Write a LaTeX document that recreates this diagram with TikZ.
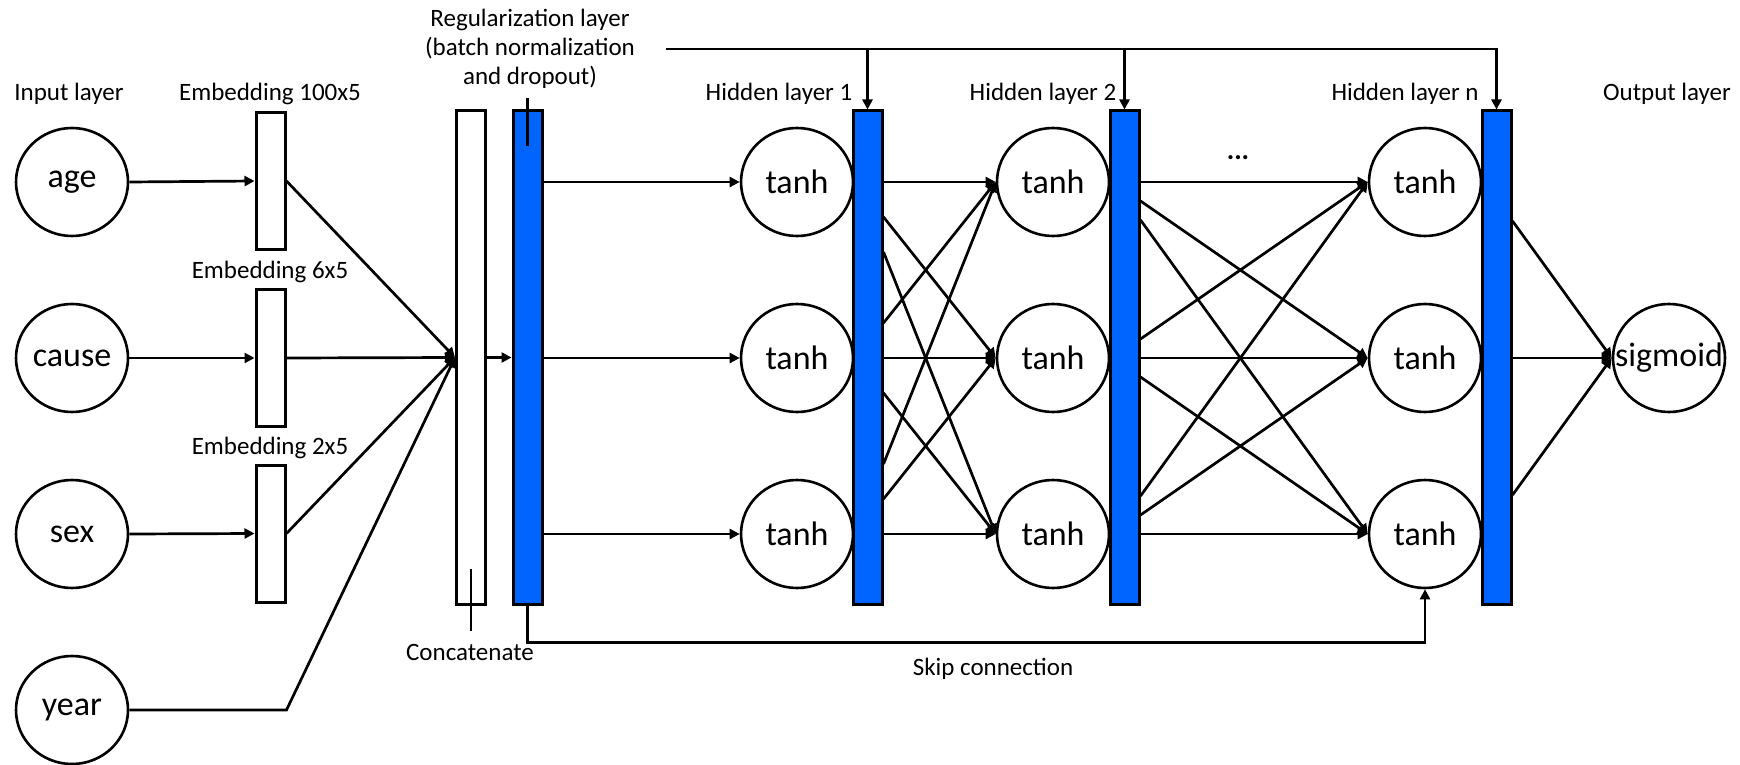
\documentclass[tikz,border=0pt]{standalone}
\usepackage{fontspec}
\setmainfont{Carlito}
\usetikzlibrary{arrows.meta,calc,shapes.geometric}
\definecolor{layerblue}{RGB}{0,100,255}
\begin{document}
\begin{tikzpicture}[x=0.5pt,y=-0.5pt,
  neurontext/.style={font=\fontsize{17pt}{19pt}\selectfont,inner sep=0pt},
  neuron/.style={draw,line width=1.3pt,ellipse,minimum width=56pt,minimum height=54pt,inner sep=0pt,label={[neurontext]center:#1}},
  embbox/.style={draw,line width=1.5pt,fill=white,minimum width=14.5pt,minimum height=68.5pt,inner sep=0pt},
  tallbox/.style={draw,line width=1.5pt,minimum width=14.5pt,minimum height=246.5pt,inner sep=0pt},
  bluebar/.style={tallbox,fill=layerblue},
  lbl/.style={font=\fontsize{12.5pt}{14.5pt}\selectfont,inner sep=0pt,align=center},
  conn/.style={line width=1.35pt},
  arr/.style={conn,-{Triangle[length=5pt,width=5pt]}},
]
\useasboundingbox (0,0) rectangle (1740,765);

% input neurons
\node[neuron=age]   (in1) at (72,182) {};
\node[neuron=cause] (in2) at (72,358) {};
\node[neuron=sex]   (in3) at (72,534) {};
\node[neuron=year]  (in4) at (72,710) {};

% hidden neurons
\foreach \y [count=\i] in {182,358,534} {
  \node[neuron=tanh] (ha\i) at (797,\y) {};
  \node[neuron=tanh] (hb\i) at (1053,\y) {};
  \node[neuron=tanh] (hn\i) at (1425,\y) {};
}
\node[neuron=sigmoid] (out) at (1669,358) {};

% boxes
\node[embbox] (e1) at (270.5,181) {};
\node[embbox] (e2) at (270.5,358) {};
\node[embbox] (e3) at (270.5,533.5) {};
\node[tallbox,fill=white] (cat) at (471,357.5) {};
\node[bluebar] (reg) at (527.5,357.5) {};
\node[bluebar] (b1) at (867.5,357.5) {};
\node[bluebar] (b2) at (1124.5,357.5) {};
\node[bluebar] (bn) at (1496.5,357.5) {};

% labels
\node[lbl] (tin)  at (69,94)   {Input layer};
\node[lbl] (te1)  at (270,94)  {Embedding 100x5};
\node[lbl] (te2)  at (270,272) {Embedding 6x5};
\node[lbl] (te3)  at (270,448) {Embedding 2x5};
\node[lbl] (treg) at (530,49)  {Regularization layer\\(batch normalization\\and dropout)};
\node[lbl] (th1)  at (779,94)  {Hidden layer 1};
\node[lbl] (th2)  at (1043,94) {Hidden layer 2};
\node[lbl] (thn)  at (1405,94) {Hidden layer n};
\node[lbl] (tout) at (1667,94) {Output layer};
\node[lbl,font=\bfseries\fontsize{14pt}{16pt}\selectfont] (dots) at (1238,158) {...};
\node[lbl] (tcat) at (470,652) {Concatenate};
\node[lbl] (tskip) at (993,669) {Skip connection};

% input -> embedding -> concat
\foreach \i in {1,2,3} {
  \draw[arr] (in\i.east) -- (e\i.west);
  \draw[arr] (e\i.east) -- (cat.west);
}
\draw[arr] (in4.east) -- (e3.east |- in4.east) -- (cat.west);
\draw[arr] (cat.east) -- (reg.west);

% regularization -> hidden 1
\foreach \i in {1,2,3}
  \draw[arr] (reg.east |- ha\i) -- (ha\i.west);

% hidden 1 -> hidden 2
\foreach \i in {1,2,3}
  \foreach \j in {1,2,3}
    \draw[arr] ($(b1.east |- ha\i)+(0,{35*(\j-\i)})$) -- (hb\j.west);

% hidden 2 -> hidden n
\foreach \i in {1,2,3}
  \foreach \j in {1,2,3}
    \draw[arr] ($(b2.east |- hb\i)+(0,{19*(\j-\i)})$) -- (hn\j.west);

% hidden n -> output
\foreach \i in {1,2,3}
  \draw[arr] ($(bn.east |- hn\i)+(0,{39*(2-\i)})$) -- (out.west);

% regularization feed line
\coordinate (rs) at (666,49);
\draw[arr] (rs) -| (bn.north);
\draw[arr] (b1.north |- rs) -- (b1.north);
\draw[arr] (b2.north |- rs) -- (b2.north);

% ticks
\draw[conn] ($(reg.north)+(0,-11)$) -- ($(reg.north)+(0,37)$);
\draw[conn] ($(cat.south)+(0,-37)$) -- ($(cat.south)+(0,25)$);

% skip connection
\draw[arr] (reg.south) -- ++(0,37) -| (hn3.south);
\end{tikzpicture}
\end{document}
